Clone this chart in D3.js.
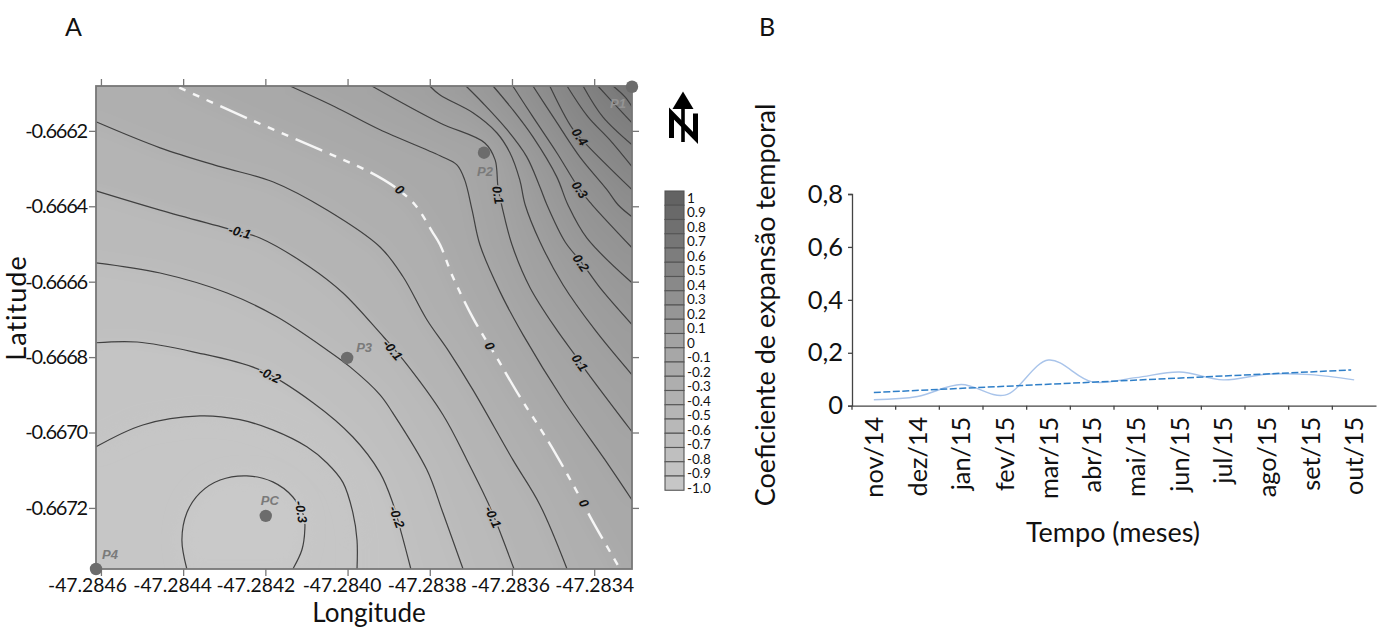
<!DOCTYPE html>
<html><head><meta charset="utf-8">
<script src="https://cdnjs.cloudflare.com/ajax/libs/d3/7.8.5/d3.min.js"></script>
<style>
html,body{margin:0;padding:0;background:#fff}
svg{display:block}
text{font-family:Lato,"Open Sans",sans-serif;fill:#111}
</style></head><body>
<svg id="c" width="1388" height="628"></svg>
<script>
// Panel A values: contour lines as [microdegrees east of -47.2846, microdegrees south of -0.6662]
const lonBase = -47.2846, latBase = -0.6662;
const lonTicks = [-47.2846,-47.2844,-47.2842,-47.2840,-47.2838,-47.2836,-47.2834];
const latTicks = [-0.6662,-0.6664,-0.6666,-0.6668,-0.6670,-0.6672];
const lonLabels = ["-47.2846","-47.2844","-47.2842","-47.2840","-47.2838","-47.2836","-47.2834"];
const latLabels = ["-0.6662","-0.6664","-0.6666","-0.6668","-0.6670","-0.6672"];

const contourLoop = [[209,1162],[197,1085],[209,1013],[241,960],[290,926],[355,915],[418,931],[467,971],[494,1023],[496,1058],[489,1111],[467,1162]];
const contourM25 = [[-12,838],[102,780],[241,756],[338,766],[418,793],[501,838],[550,881],[589,933],[613,1013],[623,1085],[623,1162]];
const contourM20 = [[-12,562],[88,560],[224,586],[387,634],[516,721],[613,812],[679,907],[710,987],[732,1071],[754,1162]];
const contourM15 = [[-12,350],[144,377],[307,430],[428,493],[550,581],[606,626],[679,700],[710,748],[793,899],[832,1013],[881,1162]];
const contourM10 = [[-12,159],[144,210],[338,268],[387,284],[508,361],[589,430],[679,536],[735,607],[832,753],[890,872],[942,987],[966,1050],[1005,1162]];
const contourM05 = [[-12,-24],[144,45],[290,95],[418,135],[550,210],[679,308],[735,387],[793,501],[844,581],[905,687],[1002,872],[1068,992],[1134,1162]];
const contourZero = [[182,-119],[355,-34],[533,50],[654,109],[715,149],[764,196],[808,271],[825,302],[856,387],[905,496],[929,541],[959,594],[1019,705],[1068,788],[1105,854],[1165,971],[1197,1037],[1263,1162]];
const contourP05 = [[460,-119],[569,-64],[679,-3],[825,66],[866,90],[885,130],[903,210],[922,302],[971,427],[1027,541],[1124,713],[1226,872],[1292,979]];
const contourP10 = [[659,-119],[825,-21],[934,32],[959,77],[966,149],[976,202],[1000,302],[1044,416],[1109,528],[1153,594],[1182,639],[1292,798]];
const contourP15 = [[800,-119],[825,-95],[905,-48],[963,5],[995,58],[1019,130],[1032,196],[1068,294],[1124,408],[1202,528],[1292,647]];
const contourP20 = [[888,-119],[929,-74],[988,-3],[1036,69],[1068,149],[1085,196],[1129,294],[1170,350],[1214,416],[1292,514]];
const contourP25 = [[954,-119],[1002,-56],[1051,16],[1109,122],[1136,196],[1182,284],[1292,403]];
const contourP30 = [[1002,-119],[1051,-37],[1109,58],[1165,156],[1195,196],[1292,310]];
const contourP35 = [[1051,-119],[1105,-29],[1165,69],[1231,156],[1258,196],[1292,228]];
const contourP40 = [[1092,-119],[1146,-8],[1182,37],[1292,156]];
const contourP45 = [[1134,-119],[1185,-37],[1238,24],[1292,95]];
const contourP50 = [[1173,-119],[1221,-37],[1292,37]];
const contourP55 = [[1209,-119],[1251,-69],[1292,-21]];
const contourP60 = [[1246,-119],[1275,-90],[1292,-64]];
const openContours = [
  [-0.25,contourM25],[-0.2,contourM20],[-0.15,contourM15],[-0.1,contourM10],[-0.05,contourM05],[0,contourZero],
  [0.05,contourP05],[0.1,contourP10],[0.15,contourP15],[0.2,contourP20],[0.25,contourP25],[0.3,contourP30],
  [0.35,contourP35],[0.4,contourP40],[0.45,contourP45],[0.5,contourP50],[0.55,contourP55],[0.6,contourP60]];

// text, east, south, angle, level
const contourLabels = [
 ["-0.1",338,268,15,-0.1],["-0.1",710,581,50,-0.1],["-0.1",954,1024,65,-0.1],
 ["-0.2",411,647,25,-0.2],["-0.2",720,1024,70,-0.2],["-0.3",487,1010,80,-0.3],
 ["0",727,156,40,0],["0",946,570,60,0],["0",1175,987,60,0],
 ["0.1",966,170,80,0.1],["0.1",1165,615,55,0.1],["0.2",1168,350,55,0.2],
 ["0.3",1165,156,55,0.3],["0.4",1165,16,55,0.4]];
const wellPoints = [["P1",1292,-117,-14,17],["P2",932,58,1,19],["P3",599,602,17,-10],["PC",401,1021,4,-15],["P4",-12,1162,14,-15]];
const legendValues = [1,0.9,0.8,0.7,0.6,0.5,0.4,0.3,0.2,0.1,0,-0.1,-0.2,-0.3,-0.4,-0.5,-0.6,-0.7,-0.8,-0.9,-1.0];
const legendLabels = ["1","0.9","0.8","0.7","0.6","0.5","0.4","0.3","0.2","0.1","0","-0.1","-0.2","-0.3","-0.4","-0.5","-0.6","-0.7","-0.8","-0.9","-1.0"];

// Panel B values
const months = ["nov/14","dez/14","jan/15","fev/15","mar/15","abr/15","mai/15","jun/15","jul/15","ago/15","set/15","out/15"];
const coefficient = [0.0225,0.035,0.08,0.04,0.1725,0.09,0.106,0.1275,0.0975,0.119,0.1175,0.0975];
const trendEnds = [0.05,0.135];
const yTicksB = [0,0.2,0.4,0.6,0.8];
const yLabelsB = ["0","0,2","0,4","0,6","0,8"];

const svg = d3.select("#c");
const defs = svg.append("defs");
const blur = defs.append("filter").attr("id","soft").attr("x","-20%").attr("y","-20%").attr("width","140%").attr("height","140%");
blur.append("feGaussianBlur").attr("stdDeviation",9);
const blur2 = defs.append("filter").attr("id","lineSoft");
blur2.append("feGaussianBlur").attr("stdDeviation",0.35);

/* ---------- Panel A ---------- */
const X0=96,X1=632,Y0=86,Y1=569;
const east=-12,eastMax=1292,southTop=-119,southBot=1162;
const lonOf=e=>lonBase+e*1e-6, latOf=s=>latBase-s*1e-6;
const x=d3.scaleLinear().domain([lonOf(east),lonOf(eastMax)]).range([X0,X1]);
const y=d3.scaleLinear().domain([latOf(southTop),latOf(southBot)]).range([Y0,Y1]);
const px=p=>[x(lonOf(p[0])),y(latOf(p[1]))];
const grey=d3.scaleLinear()
  .domain([-0.3,-0.2,-0.1,0,0.1,0.2,0.3,0.4,0.6])
  .range(["#c9c9c9","#bfbfbf","#b4b4b4","#a9a9a9","#a1a1a1","#999999","#919191","#888888","#777777"]);

defs.append("clipPath").attr("id","frameClip").append("rect").attr("x",X0).attr("y",Y0).attr("width",X1-X0).attr("height",Y1-Y0);
const map=svg.append("g").attr("clip-path","url(#frameClip)");
map.append("rect").attr("x",X0).attr("y",Y0).attr("width",X1-X0).attr("height",Y1-Y0).attr("fill",grey(-0.27));
const fills=map.append("g").attr("filter","url(#soft)");
const out=200;
function ring(pts){
  const first=pts[0], last=pts[pts.length-1], r=pts.slice();
  if(last[1]>=southBot){ r.push([last[0],southBot+out],[eastMax+out,southBot+out]); }
  else { r.push([eastMax+out,last[1]]); }
  r.push([eastMax+out,southTop-out]);
  if(first[0]<=east){ r.push([east-out,southTop-out],[east-out,first[1]]); }
  else { r.push([first[0],southTop-out]); }
  return r;
}
const straight=d3.line();
const smooth=d3.line().curve(d3.curveCatmullRom.alpha(0.5));
fills.selectAll("path").data(openContours).join("path")
  .attr("d",d=>straight(ring(d[1]).map(px)))
  .attr("fill",d=>grey(d[0]));
fills.append("path").attr("d",smooth(contourLoop.map(px))+"Z").attr("fill",grey(-0.3));

const lines=map.append("g").attr("fill","none").attr("filter","url(#lineSoft)");
lines.selectAll("path.c").data(openContours.filter(d=>d[0]!==0)).join("path").attr("class","c")
  .attr("d",d=>smooth(d[1].map(px))).attr("stroke","#404040").attr("stroke-width",1.2);
lines.append("path").attr("d",smooth(contourLoop.map(px))).attr("stroke","#404040").attr("stroke-width",1.2);
lines.append("path").attr("d",smooth(contourZero.map(px)))
  .attr("stroke","#f6f6f6").attr("stroke-width",2.4)
  .attr("stroke-dasharray","29,8,7,8,7,8,7,8").attr("stroke-dashoffset",33);

map.selectAll("text.lab").data(contourLabels).join("text").attr("class","lab")
  .attr("transform",d=>{const p=px([d[1],d[2]]);return `translate(${p[0]},${p[1]}) rotate(${d[3]})`;})
  .attr("text-anchor","middle").attr("dy","0.35em")
  .style("font-family","Liberation Sans").style("font-size","13px").style("font-weight","bold").style("font-style","italic")
  .style("paint-order","stroke").style("stroke",d=>grey(d[4])).style("stroke-width","3px").style("fill","#111")
  .text(d=>d[0]);

svg.append("rect").attr("x",X0).attr("y",Y0).attr("width",X1-X0).attr("height",Y1-Y0)
  .attr("fill","none").attr("stroke","#777").attr("stroke-width",1.8);

function styleAxis(g){g.select(".domain").remove();g.selectAll("line").attr("stroke","#777").attr("stroke-width",1.3);}
const tickFont=(s,size,ls)=>s.selectAll("text").style("font-size",size).style("letter-spacing",ls).style("fill","#111").style("font-family","Lato");
// the typed longitude labels of the reference sit left of their ticks, increasingly so towards the west
const lonLabelShift = [-14,-11,-10,-6,-3,-2,0];
svg.append("g").attr("transform",`translate(0,${Y1})`)
  .call(d3.axisBottom(x).tickValues(lonTicks).tickSize(7).tickPadding(2).tickFormat((d,i)=>lonLabels[i]))
  .call(styleAxis).call(tickFont,"19.3px","0px")
  .selectAll("text").attr("dx",(d,i)=>lonLabelShift[i]);
svg.append("g").attr("transform",`translate(${X0},0)`)
  .call(d3.axisLeft(y).tickValues(latTicks).tickSize(7).tickPadding(2).tickFormat((d,i)=>latLabels[i]))
  .call(styleAxis).call(tickFont,"20px","-1.2px");
svg.append("g").attr("transform",`translate(0,${Y0})`)
  .call(d3.axisTop(x).tickValues(lonTicks).tickSize(7).tickFormat("")).call(styleAxis);
svg.append("g").attr("transform",`translate(${X1},0)`)
  .call(d3.axisRight(y).tickValues(latTicks).tickSize(7).tickFormat("")).call(styleAxis);

svg.selectAll("circle.well").data(wellPoints).join("circle").attr("class","well")
  .attr("cx",d=>px([d[1],d[2]])[0]).attr("cy",d=>px([d[1],d[2]])[1]).attr("r",6.2).attr("fill","#6c6c6c");
svg.selectAll("text.well").data(wellPoints).join("text").attr("class","well")
  .attr("x",d=>px([d[1],d[2]])[0]+d[3]).attr("y",d=>px([d[1],d[2]])[1]+d[4])
  .attr("text-anchor","middle").attr("dy","0.35em")
  .style("font-family","Liberation Sans").style("font-size","13px").style("font-style","italic").style("font-weight","bold")
  .style("fill",d=>d[0]==="P1"?"#949494":"#7a7a7a").text(d=>d[0]);

svg.append("text").attr("x",65).attr("y",36).style("font-size","25px").text("A");
svg.append("text").attr("x",759).attr("y",36).style("font-size","25px").text("B");
svg.append("text").attr("x",369).attr("y",622).attr("text-anchor","middle").style("font-size","26px").text("Longitude");
svg.append("text").attr("transform","translate(26,308) rotate(-90)").attr("text-anchor","middle").style("font-size","27px").style("letter-spacing","1px").text("Latitude");

// north arrow
const arrow=svg.append("g").attr("fill","none").attr("stroke","#000");
arrow.append("path").attr("d","M671.5,138V113.5L695.5,138V113.5").attr("stroke-width",5).attr("stroke-linejoin","miter");
arrow.append("path").attr("d","M683,104V142").attr("stroke-width",3.6);
arrow.append("path").attr("d","M683,91.5L693.5,109H672.5Z").attr("fill","#000").attr("stroke","none");

// legend
const legendY=d3.scaleLinear().domain([1,-1]).range([191,476]);
const labelY=d3.scaleLinear().domain([1,-1]).range([198,488]);
const legendGrey=d3.scaleLinear().domain([1,0,-1]).range(["#636363","#a3a3a3","#c6c6c6"]);
const leg=svg.append("g");
leg.selectAll("rect").data(legendValues).join("rect")
  .attr("x",665).attr("width",19).attr("y",d=>legendY(d)).attr("height",14.25)
  .attr("fill",d=>legendGrey(d)).attr("stroke","#555").attr("stroke-width",1.1);
leg.selectAll("text").data(legendValues).join("text")
  .attr("x",687).attr("y",d=>labelY(d)).attr("dy","0.36em")
  .style("font-size","13.5px").text((d,i)=>legendLabels[i]);

/* ---------- Panel B ---------- */
const bx=d3.scaleBand().domain(months).range([852,1376]);
const by=d3.scaleLinear().domain([0,0.8]).range([405.7,194]);
const ax=svg.append("g").attr("transform","translate(0,405.7)")
  .call(d3.axisBottom(bx).tickSize(0).tickPadding(0));
ax.select(".domain").attr("stroke","#444").attr("stroke-width",1.3);
ax.selectAll(".tick text").attr("transform","rotate(-90)").attr("text-anchor","end").attr("x",-11).attr("y",0).attr("dy","0.36em")
  .style("font-size","25.3px").style("fill","#111").style("font-family","Lato");
svg.append("g").attr("transform","translate(0,405.7)").selectAll("line").data(months).join("line")
  .attr("x1",d=>bx(d)).attr("x2",d=>bx(d)).attr("y1",0).attr("y2",4).attr("stroke","#444").attr("stroke-width",1.3);
const ay=svg.append("g").attr("transform","translate(852,0)")
  .call(d3.axisLeft(by).tickValues(yTicksB).tickSize(4).tickPadding(5).tickFormat((d,i)=>yLabelsB[i]));
ay.select(".domain").attr("stroke","#444").attr("stroke-width",1.3);
ay.selectAll("line").attr("stroke","#444").attr("stroke-width",1.3);
ay.selectAll("text").style("font-size","25.5px").style("fill","#111").style("font-family","Lato");

const bline=d3.line().x((d,i)=>bx(months[i])+bx.bandwidth()/2).y(d=>by(d)).curve(d3.curveCatmullRom.alpha(0.5));
svg.append("path").attr("d",bline(coefficient)).attr("fill","none").attr("stroke","#a9c4ea").attr("stroke-width",1.4);
svg.append("path").attr("d",d3.line().x((d,i)=>i?bx(months[11])+bx.bandwidth()/2-3:bx(months[0])+bx.bandwidth()/2).y(d=>by(d))(trendEnds))
  .attr("fill","none").attr("stroke","#2f7fc8").attr("stroke-width",1.5).attr("stroke-dasharray","7,2.5");

svg.append("text").attr("x",1113).attr("y",542).attr("text-anchor","middle").style("font-size","27px").text("Tempo (meses)");
svg.append("text").attr("transform","translate(775,305) rotate(-90)").attr("text-anchor","middle").style("font-size","27px").text("Coeficiente de expansão temporal");
</script>
</body></html>
